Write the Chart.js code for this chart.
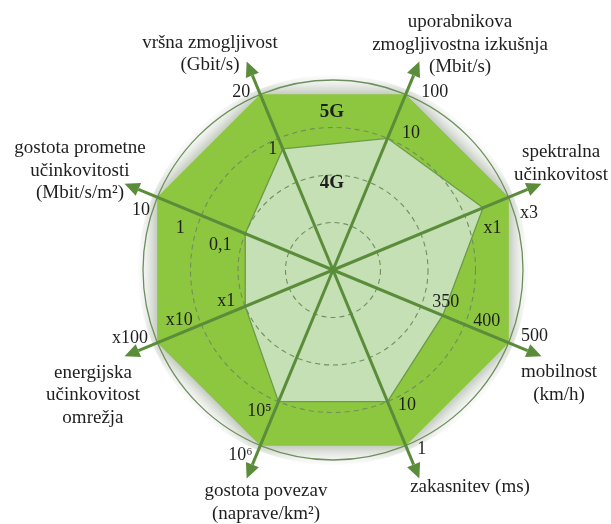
<!DOCTYPE html>
<html><head><meta charset="utf-8">
<script src="https://cdn.jsdelivr.net/npm/chart.js@4.4.1/dist/chart.umd.min.js"></script>
<style>html,body{margin:0;padding:0;background:#fff;} canvas{display:block;}</style>
</head><body>
<canvas id="c" width="611" height="524"></canvas>
<script>
// ---------- data ----------
const axisTitles = [
  ["vršna zmogljivost", "(Gbit/s)"],
  ["uporabnikova", "zmogljivostna izkušnja", "(Mbit/s)"],
  ["spektralna", "učinkovitost"],
  ["mobilnost", "(km/h)"],
  ["zakasnitev (ms)"],
  ["gostota povezav", "(naprave/km²)"],
  ["energijska", "učinkovitost", "omrežja"],
  ["gostota prometne", "učinkovitosti", "(Mbit/s/m²)"]
];
const seriesNames = ["5G", "4G"];
const values5G = [4, 4, 4, 4, 4, 4, 4, 4];
const values4G = [2.76, 3.0, 3.42, 2.5, 3.0, 3.0, 2.0, 2.0];
const tickLabels = [["20","1"],["100","10"],["x3","x1"],["500","400","350"],["1","10"],["10⁶","10⁵"],["x100","x10","x1"],["10","1","0,1"]];
const tickValues = [[4,2.76],[4,3],[4,3.42],[4,3,2.5],[4,3],[4,3],[4,3,2],[4,3,2]];

// ---------- layout / style ----------
const LAYOUT = {
  tipValue: 4.75,
  arrowLen: 15, arrowHalf: 7,
  tickOffsets: [[[-19,-2],[-10,0]], [[29,-2],[23.5,-5]], [[20.5,16],[9.5,20]], [[26,-6],[22,-3.5],[3,-13.5]],
                [[16,4],[19.5,3.5]], [[-20,9.5],[-19,10]], [[-27.5,-4],[-22,-4],[-19,-5]], [[-16.5,13],[-21,13],[-25,11.5]]],
  titleOffsets: [[-36.7,-7.6],[40.7,-16.6],[19.6,-20.2],[17.6,27.2],[50.7,8.6],[19.3,24.1],[-31.6,38.7],[-44.6,-12.7]],
  seriesNameValue: [3.33, 1.83],
  lineH: 22.5
};
const C5G = '#8DC63F', C4G = '#C5E0B4', AXIS = '#5A8C3A', TEXT = '#1e1e1e';
const FONT = '"Liberation Serif", "Times New Roman", serif';

const decor = {
  id: 'decor',
  beforeDatasetsDraw(chart) {
    const s = chart.scales.r, ctx = chart.ctx;
    const pts = chart.getDatasetMeta(1).data;
    ctx.save();
    ctx.beginPath();
    ctx.arc(s.xCenter, s.yCenter, s.drawingArea + 5, 0, Math.PI * 2);
    ctx.clip();
    ctx.beginPath();
    pts.forEach((p, i) => i ? ctx.lineTo(p.x, p.y) : ctx.moveTo(p.x, p.y));
    ctx.closePath();
    ctx.shadowColor = 'rgba(105,125,95,0.8)';
    ctx.shadowBlur = 22;
    ctx.fillStyle = C5G;
    ctx.fill();
    ctx.restore();
  },
  afterDatasetsDraw(chart) {
    const s = chart.scales.r, ctx = chart.ctx;
    s.ticks.forEach(t => {
      if (t.value <= s.min) return;
      const r = s.getDistanceFromCenterForValue(t.value);
      ctx.save();
      ctx.beginPath();
      ctx.arc(s.xCenter, s.yCenter, r, 0, Math.PI * 2);
      if (t.value < s.max) { ctx.setLineDash([5, 4]); ctx.strokeStyle = '#6f8f5e'; ctx.lineWidth = 1.1; }
      else { ctx.strokeStyle = '#6e8f5c'; ctx.lineWidth = 1.3; }
      ctx.stroke();
      ctx.restore();
    });
    const n = chart.data.labels.length;
    const rTip = s.getDistanceFromCenterForValue(LAYOUT.tipValue);
    ctx.save();
    ctx.strokeStyle = AXIS; ctx.fillStyle = AXIS; ctx.lineWidth = 3;
    for (let i = 0; i < n; i++) {
      const tip = s.getPointPosition(i, rTip);
      const base = s.getPointPosition(i, rTip - LAYOUT.arrowLen);
      ctx.beginPath(); ctx.moveTo(s.xCenter, s.yCenter); ctx.lineTo(base.x, base.y); ctx.stroke();
      const px = -Math.sin(tip.angle), py = Math.cos(tip.angle), h = LAYOUT.arrowHalf;
      ctx.beginPath();
      ctx.moveTo(tip.x, tip.y);
      ctx.lineTo(base.x + px * h, base.y + py * h);
      ctx.lineTo(base.x - px * h, base.y - py * h);
      ctx.closePath(); ctx.fill();
    }
    ctx.restore();
  },
  afterDraw(chart) {
    const s = chart.scales.r, ctx = chart.ctx;
    const rTip = s.getDistanceFromCenterForValue(LAYOUT.tipValue);
    ctx.save();
    ctx.fillStyle = TEXT; ctx.textAlign = 'center'; ctx.textBaseline = 'middle';
    ctx.font = '19px ' + FONT;
    axisTitles.forEach((lines, i) => {
      const tip = s.getPointPosition(i, rTip);
      const cx = tip.x + LAYOUT.titleOffsets[i][0], cy = tip.y + LAYOUT.titleOffsets[i][1];
      lines.forEach((ln, k) => ctx.fillText(ln, cx, cy + (k - (lines.length - 1) / 2) * LAYOUT.lineH));
    });
    ctx.font = '18px ' + FONT;
    tickLabels.forEach((labs, i) => {
      labs.forEach((lab, j) => {
        const p = s.getPointPosition(i, s.getDistanceFromCenterForValue(tickValues[i][j]));
        const o = LAYOUT.tickOffsets[i][j];
        ctx.fillText(lab, p.x + o[0], p.y + o[1]);
      });
    });
    ctx.font = 'bold 19px ' + FONT;
    seriesNames.forEach((nm, k) => {
      ctx.fillText(nm, s.xCenter - 1, s.yCenter - s.getDistanceFromCenterForValue(LAYOUT.seriesNameValue[k]));
    });
    ctx.restore();
  }
};

new Chart(document.getElementById('c'), {
  type: 'radar',
  data: {
    labels: axisTitles.map(l => l.join(' ')),
    datasets: [
      { label: seriesNames[1], data: values4G, backgroundColor: C4G, borderColor: '#6b9b48', borderWidth: 1.3, fill: true, pointRadius: 0, pointHitRadius: 0 },
      { label: seriesNames[0], data: values5G, backgroundColor: C5G, borderColor: 'rgba(0,0,0,0)', borderWidth: 0, fill: true, pointRadius: 0, pointHitRadius: 0 }
    ]
  },
  options: {
    responsive: false,
    animation: false,
    layout: { padding: { top: 80, bottom: 64, left: 143, right: 88 } },
    elements: { line: { tension: 0 } },
    plugins: { legend: { display: false }, tooltip: { enabled: false } },
    scales: {
      r: {
        min: 0, max: 4, startAngle: -22.5,
        ticks: { display: false, stepSize: 1 },
        pointLabels: { display: false },
        angleLines: { display: false },
        grid: { display: false }
      }
    }
  },
  plugins: [decor]
});
</script>
</body></html>
